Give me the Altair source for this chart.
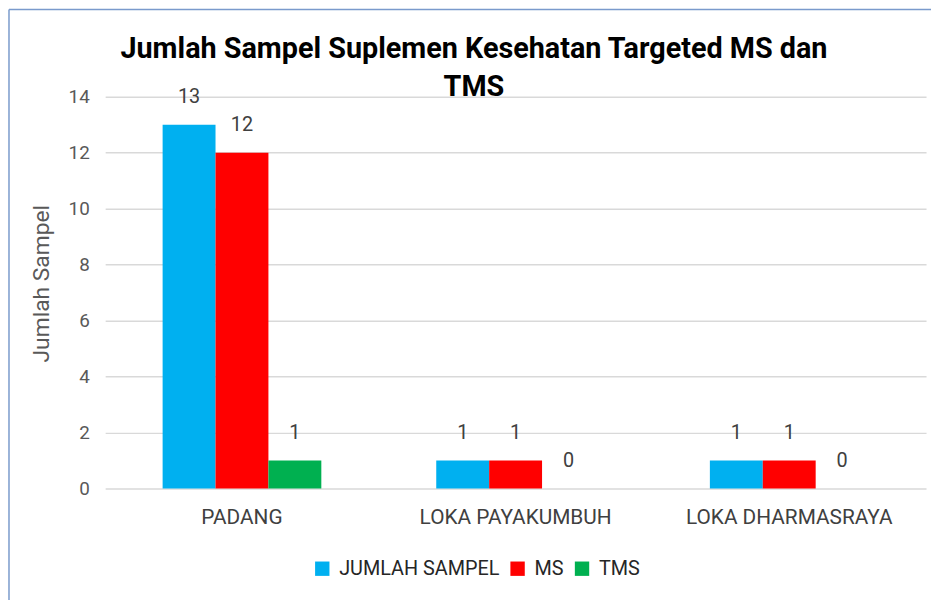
import altair as alt
import pandas as pd

categories = ["PADANG", "LOKA PAYAKUMBUH", "LOKA DHARMASRAYA"]
series = ["JUMLAH SAMPEL", "MS", "TMS"]
jumlah_sampel = [13, 1, 1]
ms = [12, 1, 1]
tms = [1, 0, 0]
colors = ["#00B0F0", "#FF0000", "#00B050"]

rows = []
for i, c in enumerate(categories):
    for s, vals in zip(series, [jumlah_sampel, ms, tms]):
        rows.append({"Lokasi": c, "Seri": s, "Nilai": vals[i]})
df = pd.DataFrame(rows)

FONT = "Roboto"
TEXT = "#595959"

x = alt.X("Lokasi:N", sort=categories,
          scale=alt.Scale(paddingInner=0.42, paddingOuter=0.21),
          axis=alt.Axis(title=None, labelAngle=0, ticks=False, domain=False,
                        labelFontSize=21, labelColor="#404040", labelPadding=18,
                        labelFont=FONT, labelLimit=0))
xoff = alt.XOffset("Seri:N", sort=series, scale=alt.Scale(paddingInner=0, paddingOuter=0))
y = alt.Y("Nilai:Q", scale=alt.Scale(domain=[0, 14]),
          axis=alt.Axis(title="Jumlah Sampel", values=[0, 2, 4, 6, 8, 10, 12, 14],
                        ticks=False, domain=False, labelFontSize=19, labelColor=TEXT,
                        labelPadding=16, labelFont=FONT, gridColor="#D9D9D9", gridWidth=1.5,
                        titleFontSize=23, titleFontWeight="normal", titleColor=TEXT,
                        titleFont=FONT, titleX=-52, titleY=188))

bars = alt.Chart(df).mark_bar().encode(
    x=x, xOffset=xoff, y=y,
    color=alt.Color("Seri:N", sort=series,
                    scale=alt.Scale(domain=series, range=colors),
                    legend=alt.Legend(title=None, orient="none", direction="horizontal",
                                      legendX=209, legendY=466, symbolType="square",
                                      symbolSize=210, symbolStrokeWidth=0,
                                      labelFontSize=20, labelColor="#262626", labelFont=FONT,
                                      labelOffset=7, columnPadding=8, padding=0,
                                      labelLimit=0)),
)

labels = alt.Chart(df).mark_text(dy=-28, baseline="middle", fontSize=20,
                                 color="#404040", font=FONT).encode(
    x=x, xOffset=xoff, y=y, text=alt.Text("Nilai:Q"))

border_left = alt.Chart(alt.Data(values=[{}])).mark_rule(color="#7A9ACC", strokeWidth=1.5).encode(
    x=alt.value(-97), y=alt.value(-88), y2=alt.value(520))
border_top = alt.Chart(alt.Data(values=[{}])).mark_rule(color="#7A9ACC", strokeWidth=1.5).encode(
    x=alt.value(-97), x2=alt.value(840), y=alt.value(-88))

chart = alt.layer(bars, labels, border_left, border_top).properties(
    width=828, height=395,
    title=alt.Title(["Jumlah Sampel Suplemen Kesehatan Targeted MS dan", "TMS"],
                    fontSize=29, fontWeight="bold", font=FONT, color="#000000",
                    anchor="middle", frame="group", dx=-42, dy=94, offset=0,
                    lineHeight=38),
    autosize=alt.AutoSizeParams(type="none"),
    padding={"left": 98, "top": 87, "right": 5, "bottom": 110},
).configure_view(stroke=None)

chart.save("out.html", embed_options={"renderer": "svg", "actions": False})
